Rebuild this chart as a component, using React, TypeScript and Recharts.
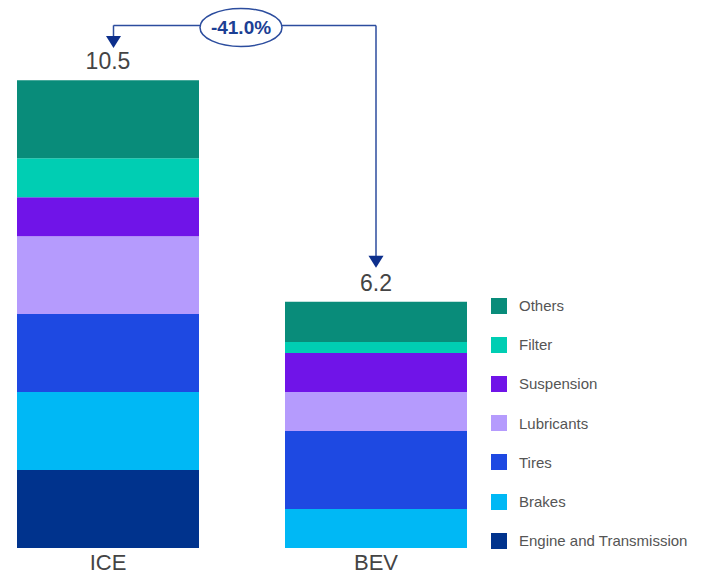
import { Bar, BarChart, LabelList, Legend, ReferenceLine, XAxis, YAxis } from "recharts";

const categories = ["ICE", "BEV"];
const engineTransmission = [1.75, 0];
const brakes = [1.75, 0.875];
const tires = [1.75, 1.75];
const lubricants = [1.75, 0.875];
const suspension = [0.875, 0.875];
const filter = [0.875, 0.25];
const others = [1.75, 0.9];
const totals = ["10.5", "6.2"];
const changeLabel = "-41.0%";

// annotation levels, in value units
const arrowTop = 11.73;
const iceArrowTip = 11.22;
const bevArrowTip = 6.29;

const series = [
  { key: "engine", name: "Engine and Transmission", color: "#00338d", values: engineTransmission },
  { key: "brakes", name: "Brakes", color: "#00b8f5", values: brakes },
  { key: "tires", name: "Tires", color: "#1e49e2", values: tires },
  { key: "lubricants", name: "Lubricants", color: "#b59bfd", values: lubricants },
  { key: "suspension", name: "Suspension", color: "#7014e8", values: suspension },
  { key: "filter", name: "Filter", color: "#00ceb3", values: filter },
  { key: "others", name: "Others", color: "#098c7a", values: others },
];

const data = categories.map((name, i) => {
  const row: Record<string, string | number> = { name, total: totals[i] };
  series.forEach((s) => (row[s.key] = s.values[i]));
  return row;
});

const LINE = "#2c4d9e";
const HEAD = "#0d2f8c";
const ICE_SHIFT = 5.5;

function DownArrow(shift: number) {
  return (p: any) => {
    const x = p.x1 + shift;
    const tip = Math.max(p.y1, p.y2);
    const top = Math.min(p.y1, p.y2);
    return (
      <g>
        <line x1={x} y1={top} x2={x} y2={tip - 11} stroke={LINE} strokeWidth={1.5} />
        <path d={`M${x - 7.5},${tip - 12} L${x + 7.5},${tip - 12} L${x},${tip} Z`} fill={HEAD} />
      </g>
    );
  };
}

function TopBracket(p: any) {
  const mid = (p.x1 + p.x2) / 2;
  const y = p.y1;
  return (
    <g>
      <line x1={p.x1 + ICE_SHIFT} y1={y} x2={p.x2} y2={y} stroke={LINE} strokeWidth={1.5} />
      <ellipse cx={mid - 1} cy={y + 2} rx={41} ry={19} fill="#fff" stroke={LINE} strokeWidth={1.5} />
      <text
        x={mid - 1}
        y={y + 4}
        textAnchor="middle"
        dominantBaseline="middle"
        fontSize={19}
        fontWeight="bold"
        fill="#1c3f94"
      >
        {changeLabel}
      </text>
    </g>
  );
}

function LegendList() {
  return (
    <div>
      {[...series].reverse().map((s) => (
        <div key={s.key} style={{ height: 39.2, display: "flex", alignItems: "center" }}>
          <span style={{ width: 16, height: 16, background: s.color, display: "inline-block" }} />
          <span style={{ marginLeft: 12, fontSize: 15, color: "#555" }}>{s.name}</span>
        </div>
      ))}
    </div>
  );
}

export default function App() {
  return (
    <div style={{ position: "absolute", left: 0, top: 0, fontFamily: "'Liberation Sans', Arial, sans-serif" }}>
      <BarChart width={704} height={575} data={data} margin={{ top: 0, right: 194, bottom: 0, left: -26 }}>
        <XAxis
          dataKey="name"
          axisLine={false}
          tickLine={false}
          height={27}
          interval={0}
          tickMargin={0}
          tick={{ fontSize: 22, fill: "#444" }}
        />
        <YAxis hide domain={[0, 12.3]} />
        {series.map((s, i) => (
          <Bar
            key={s.key}
            dataKey={s.key}
            name={s.name}
            stackId="a"
            fill={s.color}
            barSize={182}
            isAnimationActive={false}
          >
            {i === series.length - 1 && (
              <LabelList dataKey="total" position="top" offset={11} fontSize={23} fill="#444" />
            )}
          </Bar>
        ))}
        <ReferenceLine
          segment={[
            { x: "ICE", y: arrowTop },
            { x: "BEV", y: arrowTop },
          ]}
          shape={TopBracket}
        />
        <ReferenceLine
          segment={[
            { x: "ICE", y: arrowTop },
            { x: "ICE", y: iceArrowTip },
          ]}
          shape={DownArrow(ICE_SHIFT)}
        />
        <ReferenceLine
          segment={[
            { x: "BEV", y: arrowTop },
            { x: "BEV", y: bevArrowTip },
          ]}
          shape={DownArrow(0)}
        />
        <Legend
          layout="vertical"
          align="center"
          verticalAlign="middle"
          content={() => <LegendList />}
          wrapperStyle={{ left: 491, top: 286, width: 210, height: "auto" }}
        />
      </BarChart>
    </div>
  );
}
